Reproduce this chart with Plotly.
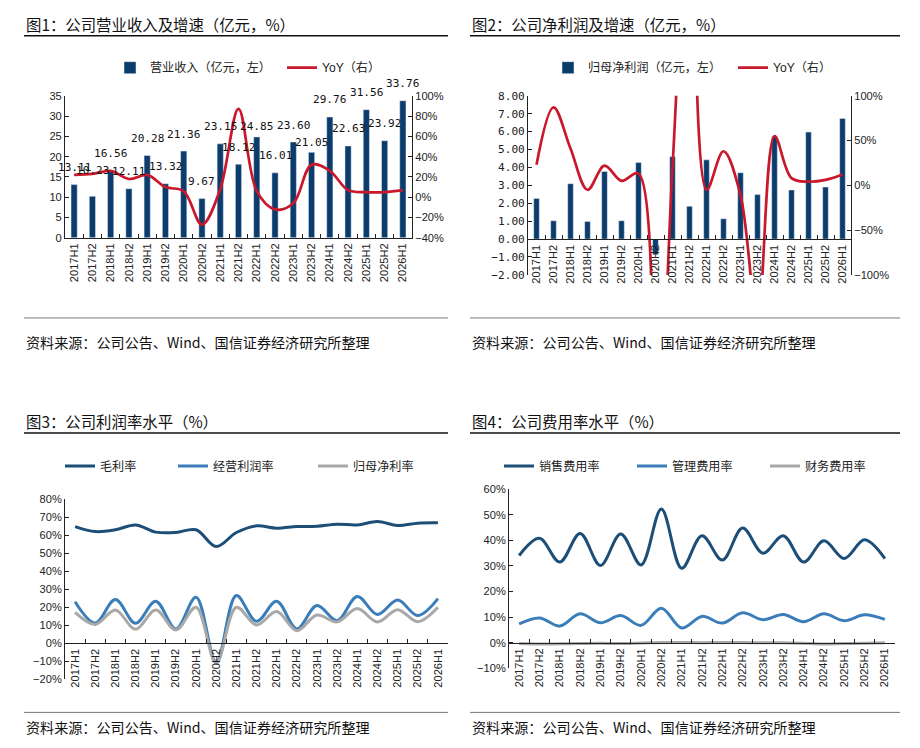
import plotly.graph_objects as go

periods = ['2017H1', '2017H2', '2018H1', '2018H2', '2019H1', '2019H2', '2020H1',
           '2020H2', '2021H1', '2021H2', '2022H1', '2022H2', '2023H1', '2023H2',
           '2024H1', '2024H2', '2025H1', '2025H2', '2026H1']

revenue = [13.11, 10.23, 16.56, 12.11, 20.28, 13.32, 21.36, 9.67, 23.15, 18.12,
           24.85, 16.01, 23.60, 21.05, 29.76, 22.63, 31.56, 23.92, 33.76]
revenue_yoy = [22, 23, 26, 18, 22, 10, 6, -27, 8, 87, 6, -12, -6, 32, 26, 7, 5, 5, 7]

net_profit = [2.27, 1.02, 3.09, 0.98, 3.77, 1.02, 4.27, -0.87, 4.60, 1.83,
              4.42, 1.13, 3.70, 2.48, 5.73, 2.74, 5.97, 2.90, 6.73]
net_profit_yoy = [23, 87, 41, -5, 22, 5, 13, -350, 20, 320, -5, 38, -11, -150,
                  55, 8, 4, 6, 12]

gross_margin = [64.8, 62.0, 63.0, 65.7, 61.7, 61.5, 63.0, 53.7, 61.5, 65.2,
                63.9, 64.8, 65.0, 66.1, 65.7, 67.6, 65.4, 66.7, 66.9]
op_margin = [23.1, 11.3, 24.3, 11.1, 23.3, 8.0, 25.6, -10.5, 26.5, 12.2,
             23.3, 8.0, 21.0, 12.6, 26.0, 16.0, 24.0, 15.4, 24.8]
net_margin = [17.2, 10.5, 18.5, 7.8, 18.5, 7.4, 20.0, -11.0, 20.0, 10.2,
              17.6, 7.0, 15.7, 11.9, 19.3, 11.9, 18.7, 12.0, 20.0]

selling_rate = [34.1, 40.8, 31.5, 42.7, 30.2, 42.5, 30.4, 52.2, 29.1, 41.8,
                32.3, 44.8, 35.0, 41.8, 31.5, 39.8, 32.9, 40.2, 32.9]
admin_rate = [7.4, 9.7, 6.5, 11.3, 7.8, 10.6, 6.8, 13.5, 5.8, 10.3,
              7.7, 11.7, 9.0, 11.0, 8.2, 11.3, 8.6, 10.9, 9.1]
finance_rate = [-0.3, -0.5, -0.4, -0.3, -0.2, -0.3, -0.1, 0.1, 0.1, 0.0,
                0.1, 0.1, 0.0, 0.0, -0.2, -0.5, -0.3, -0.2, 0.0]

titles = ['图1：公司营业收入及增速（亿元，%）', '图2：公司净利润及增速（亿元，%）',
          '图3：公司利润率水平（%）', '图4：公司费用率水平（%）']
source_text = '资料来源：公司公告、Wind、国信证券经济研究所整理'

W, H = 920, 748
# the captured picture came out slightly shrunk vertically and shifted; compensate
SX, OX = 1.0, 0.0
SY, OY = 0.9815, 6.4


def fx(p):
    return ((p - OX) / SX) / W


def fy(p):
    return 1 - ((p - OY) / SY) / H


def fs(v):
    return round(v / ((1 + SY) / 2), 1)


NAVY = '#0B3C6C'
RED = '#C9182B'
DARK = '#1D4E78'
MID = '#3A7DB9'
GRAY = '#A8A8A8'
FONT = 'Liberation Sans, Noto Sans CJK SC, sans-serif'
CJK = 'Noto Sans CJK SC, sans-serif'
MONO = 'DejaVu Sans Mono, monospace'
INK = '#222222'

# label lift (px above bar top); a few labels sit nearer/farther as in the original
LABEL_LIFT = 17
LABEL_LIFT_OVERRIDE = {'2017H2': 26, '2022H1': 10, '2023H2': 10}

fig = go.Figure()

# Panel 1
fig.add_trace(go.Bar(
    x=periods, y=revenue, name='营业收入（亿元，左）', marker_color=NAVY, width=0.34,
    xaxis='x', yaxis='y', legend='legend'))
fig.add_trace(go.Scatter(
    x=periods, y=revenue_yoy, name='YoY（右）', mode='lines',
    line=dict(color=RED, width=2.7, shape='spline'),
    xaxis='x', yaxis='y2', legend='legend2'))

# Panel 2
fig.add_trace(go.Bar(
    x=periods, y=net_profit, name='归母净利润（亿元，左）', marker_color=NAVY, width=0.33,
    xaxis='x2', yaxis='y3', legend='legend3'))
fig.add_trace(go.Scatter(
    x=periods, y=net_profit_yoy, name='YoY（右）', mode='lines',
    line=dict(color=RED, width=2.7, shape='spline'),
    xaxis='x2', yaxis='y4', legend='legend4'))

# Panel 3
for vals, nm, col, lg in [(gross_margin, '毛利率', DARK, 'legend5'),
                          (op_margin, '经营利润率', MID, 'legend6'),
                          (net_margin, '归母净利率', GRAY, 'legend7')]:
    fig.add_trace(go.Scatter(
        x=periods, y=vals, name=nm, mode='lines',
        line=dict(color=col, width=3, shape='spline'),
        xaxis='x3', yaxis='y5', legend=lg))

# Panel 4
for vals, nm, col, lg in [(selling_rate, '销售费用率', DARK, 'legend8'),
                          (admin_rate, '管理费用率', MID, 'legend9'),
                          (finance_rate, '财务费用率', GRAY, 'legend10')]:
    fig.add_trace(go.Scatter(
        x=periods, y=vals, name=nm, mode='lines',
        line=dict(color=col, width=3, shape='spline'),
        xaxis='x4', yaxis='y6', legend=lg))

ax = dict(showgrid=False, zeroline=False, showline=True, linecolor=INK, linewidth=1,
          ticks='inside', ticklen=4, tickcolor=INK,
          tickfont=dict(family=FONT, size=fs(11), color=INK))
xax = dict(ax, type='category', tickangle=-90, tickson='boundaries',
           range=[-0.5, len(periods) - 0.5])

layout = dict(
    width=W, height=H, margin=dict(l=0, r=0, t=0, b=0),
    paper_bgcolor='white', plot_bgcolor='white',
    font=dict(family=FONT, color=INK),
    xaxis=dict(xax, domain=[fx(65), fx(412)], anchor='y'),
    yaxis=dict(ax, domain=[fy(238), fy(96)], range=[0, 35], dtick=5, anchor='x'),
    yaxis2=dict(ax, overlaying='y', side='right', anchor='x', range=[-40, 100],
                dtick=20, ticksuffix='%'),
    xaxis2=dict(xax, domain=[fx(528), fx(851)], anchor='free', position=fy(239.5)),
    yaxis3=dict(ax, domain=[fy(275), fy(96)], range=[-2, 8], dtick=1, anchor='x2',
                tickformat='.2f', tickfont=dict(family=MONO, size=fs(11), color=INK)),
    yaxis4=dict(ax, overlaying='y3', side='right', anchor='x2', range=[-100, 100],
                dtick=50, ticksuffix='%'),
    xaxis3=dict(xax, domain=[fx(65), fx(448)], anchor='free', position=fy(643)),
    yaxis5=dict(ax, domain=[fy(679), fy(499)], range=[-20, 80], dtick=10,
                anchor='x3', ticksuffix='%'),
    xaxis4=dict(xax, domain=[fx(509), fx(895)], anchor='free', position=fy(642.5)),
    yaxis6=dict(ax, domain=[fy(668), fy(489)], range=[-10, 60], dtick=10,
                anchor='x4', ticksuffix='%'),
    showlegend=True,
)

legend_spots = {
    'legend': (110, 68), 'legend2': (282, 68),
    'legend3': (548, 68), 'legend4': (733, 68),
    'legend5': (60, 466), 'legend6': (173, 466), 'legend7': (313, 466),
    'legend8': (499, 466), 'legend9': (632, 466), 'legend10': (765, 466),
}
for key, (lx, ly) in legend_spots.items():
    layout[key] = dict(orientation='h', x=fx(lx), y=fy(ly), xanchor='left',
                       yanchor='middle', bgcolor='rgba(0,0,0,0)', borderwidth=0,
                       itemwidth=30, font=dict(family=FONT, size=fs(12), color=INK))

fig.update_layout(**layout)

annotations = []
shapes = []

# value labels above revenue bars (anchored to the data through the x/y axes)
for p, v in zip(periods, revenue):
    annotations.append(dict(text=f'{v:.2f}', xref='x', yref='y', x=p, y=v,
                            yanchor='middle',
                            yshift=LABEL_LIFT_OVERRIDE.get(p, LABEL_LIFT),
                            showarrow=False,
                            font=dict(family=MONO, size=fs(11), color='#111')))

for i, (tx, ty, x0, x1) in enumerate([(24, 24, 24, 448), (470, 24, 470, 900),
                                      (24, 421, 24, 448), (470, 421, 470, 900)]):
    annotations.append(dict(text=titles[i], xref='paper', yref='paper', x=fx(tx), y=fy(ty),
                            xanchor='left', yanchor='middle', showarrow=False,
                            font=dict(family=CJK, size=fs(15.3), color='#111')))
    shapes.append(dict(type='line', xref='paper', yref='paper', x0=fx(x0), x1=fx(x1),
                       y0=fy(ty + 12), y1=fy(ty + 12), line=dict(color='#111', width=1.5)))
for (sx, sy, x0, x1, ly) in [(24, 342, 24, 448, 318), (470, 342, 470, 900, 318),
                             (24, 727, 24, 448, 712), (470, 727, 470, 900, 712)]:
    annotations.append(dict(text=source_text, xref='paper', yref='paper', x=fx(sx), y=fy(sy),
                            xanchor='left', yanchor='middle', showarrow=False,
                            font=dict(family=CJK, size=fs(14), color='#111')))
    shapes.append(dict(type='line', xref='paper', yref='paper', x0=fx(x0), x1=fx(x1),
                       y0=fy(ly), y1=fy(ly), line=dict(color='#777', width=1)))

fig.update_layout(annotations=annotations, shapes=shapes)

fig.write_html('out.html', config={'displayModeBar': False},
               post_script="document.body.style.margin='0';"
                           "document.body.style.overflow='hidden';")
